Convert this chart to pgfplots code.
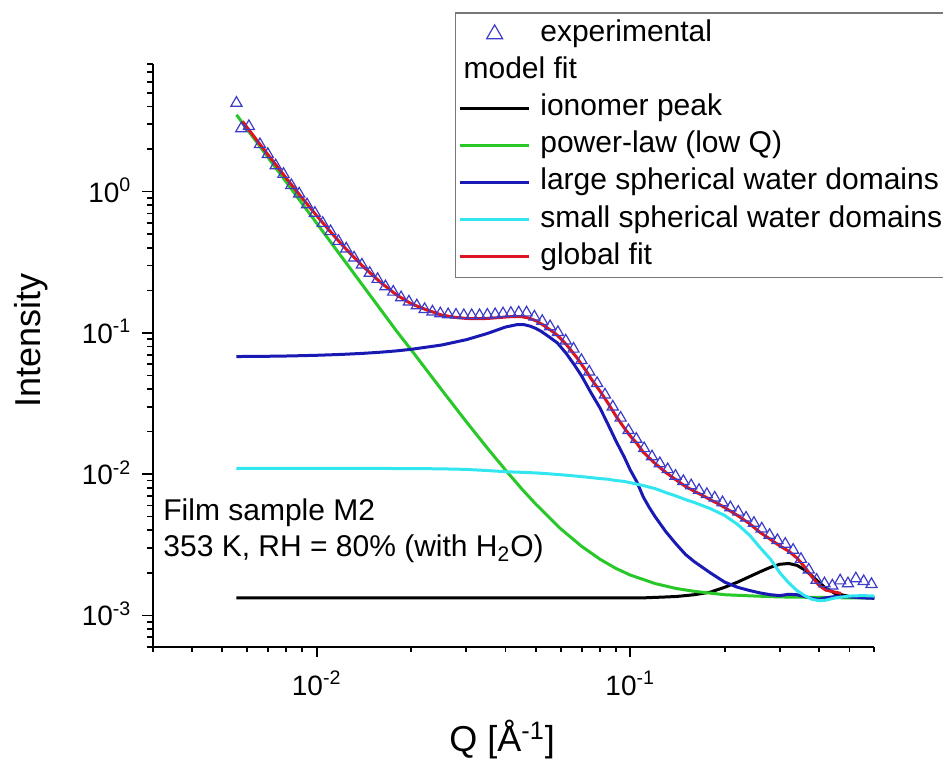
\documentclass[border=0pt]{standalone}
\usepackage{fontspec}
\setmainfont{Liberation Sans}
\usepackage{pgfplots}
\pgfplotsset{compat=1.18}

\definecolor{expblue}{RGB}{60,60,200}
\definecolor{fitgreen}{RGB}{40,200,40}
\definecolor{fitblue}{RGB}{25,25,180}
\definecolor{fitcyan}{RGB}{50,230,240}
\definecolor{fitred}{RGB}{220,20,30}
\definecolor{legframe}{RGB}{120,120,120}

\pgfplotsset{
    linelegend/.style={legend image code/.code={\draw[##1] (0pt,0pt) -- (34.5pt,0pt);}},
    marklegend/.style={legend image code/.code={\path[draw=none] (0pt,0pt) -- (34.5pt,0pt);
        \draw[##1, mark size=4.6pt] plot coordinates {(17.25pt,0pt)};}},
    nolegend/.style={legend image code/.code={}},
}

\begin{document}
\begin{tikzpicture}
\begin{axis}[
    scale only axis,
    width=360.8pt, height=291.3pt,
    xmode=log, ymode=log,
    xmin=3e-3, xmax=0.6,
    ymin=6e-4, ymax=8,
    axis x line*=bottom, axis y line*=left,
    axis line style={line width=1pt},
    tick align=outside,
    major tick length=5.2pt, minor tick length=2.7pt,
    tick style={black, line width=0.85pt},
    xtick={0.01,0.1},
    xticklabels={10\textsuperscript{-2},10\textsuperscript{-1}},
    minor xtick={0.003,0.004,0.005,0.006,0.007,0.008,0.009,0.02,0.03,0.04,0.05,0.06,0.07,0.08,0.09,0.2,0.3,0.4,0.5,0.6},
    ytick={0.001,0.01,0.1,1},
    yticklabels={10\textsuperscript{-3},10\textsuperscript{-2},10\textsuperscript{-1},10\textsuperscript{0}},
    minor ytick={0.0006,0.0007,0.0008,0.0009,0.002,0.003,0.004,0.005,0.006,0.007,0.008,0.009,0.02,0.03,0.04,0.05,0.06,0.07,0.08,0.09,0.2,0.3,0.4,0.5,0.6,0.7,0.8,0.9,2,3,4,5,6,7,8},
    tick label style={font=\fontsize{14}{16}\selectfont},
    xticklabel style={anchor=base, yshift=-19pt, inner sep=0pt},
    yticklabel style={anchor=base east, xshift=-5.3pt, yshift=-5.2pt, inner sep=0pt},
    xlabel={Q [Å\textsuperscript{-1}]},
    ylabel={Intensity},
    label style={font=\fontsize{18}{21}\selectfont, inner sep=0pt},
    xlabel style={at={(axis description cs:0.4843,0)}, anchor=base, yshift=-52.65pt},
    ylabel style={at={(axis description cs:-0.1688,0.5263)}, anchor=center},
    legend style={
        at={(0.419,1.0886)}, anchor=north west,
        draw=legframe, line width=0.6pt,
        font=\fontsize{15}{18}\selectfont,
        inner xsep=1.5pt, inner ysep=3.25pt, row sep=4.05pt,
        nodes={inner sep=0pt, text height=11pt, text depth=3.5pt},
        /tikz/every odd column/.append style={column sep=4.85pt},
    },
    legend cell align=left,
]

% experimental data
\addplot[only marks, mark=triangle, mark size=3.2pt, color=expblue,
    mark options={line width=0.6pt}, marklegend]
coordinates {
    (0.00555,4.24) (0.00575,2.80) (0.00608,2.90) (0.006596,2.16)
    (0.006987,1.84) (0.007401,1.53) (0.007839,1.33) (0.008304,1.11)
    (0.008796,0.965) (0.009317,0.81) (0.00987,0.705) (0.010454,0.598)
    (0.011074,0.523) (0.01173,0.446) (0.012425,0.394) (0.013161,0.340)
    (0.013941,0.303) (0.014767,0.265) (0.015642,0.240) (0.016569,0.213)
    (0.017551,0.195) (0.018591,0.178) (0.019692,0.166) (0.020859,0.156)
    (0.022095,0.147) (0.023404,0.141) (0.024791,0.137) (0.02626,0.135)
    (0.027816,0.134) (0.029464,0.133) (0.03121,0.133) (0.03306,0.133)
    (0.03502,0.134) (0.03709,0.135) (0.03929,0.137) (0.04162,0.138)
    (0.04409,0.139) (0.0467,0.139) (0.04946,0.130) (0.0524,0.121)
    (0.0555,0.111) (0.05879,0.101) (0.06227,0.088) (0.06596,0.077)
    (0.06987,0.064) (0.07401,0.053) (0.07839,0.044) (0.08304,0.0365)
    (0.08796,0.030) (0.09317,0.025) (0.0987,0.0204) (0.10454,0.0177)
    (0.11074,0.0152) (0.1173,0.0133) (0.12425,0.0119) (0.13161,0.0108)
    (0.13941,0.0097) (0.14767,0.0089) (0.15642,0.0083) (0.16569,0.0077)
    (0.17551,0.0072) (0.18591,0.0068) (0.19692,0.0063) (0.20859,0.0058)
    (0.22095,0.0054) (0.23404,0.0049) (0.24791,0.0045) (0.2626,0.0041)
    (0.27816,0.0037) (0.29464,0.0034) (0.3121,0.0032) (0.3306,0.0029)
    (0.3502,0.0025) (0.3709,0.0021) (0.3929,0.00178) (0.4162,0.00168)
    (0.4409,0.00162) (0.467,0.00176) (0.4946,0.00168) (0.524,0.00182)
    (0.555,0.00174) (0.5879,0.00166)
};
\addlegendentry{experimental}

\addlegendimage{nolegend}
\addlegendentry{\hspace*{-38.35pt}model fit}

% ionomer peak
\addplot[black, line width=1.5pt, linelegend] coordinates {
    (0.00555,0.00133) (0.01,0.00133) (0.05,0.00133) (0.1,0.00133)
    (0.11,0.00133) (0.12,0.00134) (0.13,0.00135) (0.14,0.00136)
    (0.15,0.00138) (0.16,0.0014) (0.18,0.00146) (0.2,0.00158)
    (0.22,0.00172) (0.24,0.00188) (0.26,0.00204) (0.28,0.00219)
    (0.3,0.0023) (0.32,0.00233) (0.34,0.00226) (0.36,0.0021)
    (0.38,0.0019) (0.4,0.00171) (0.42,0.00156) (0.45,0.00143)
    (0.5,0.00136) (0.55,0.00134) (0.6,0.00133)
};
\addlegendentry{ionomer peak}

% power law
\addplot[fitgreen, line width=1.5pt, linelegend] coordinates {
    (0.00555,3.50) (0.006,2.770) (0.007,1.745) (0.008,1.169) (0.009,0.8205)
    (0.01,0.5984) (0.012,0.3462) (0.014,0.2182) (0.016,0.1462) (0.018,0.1026)
    (0.02,0.0761) (0.025,0.0397) (0.03,0.0235) (0.035,0.0153) (0.04,0.0107)
    (0.045,0.0079) (0.05,0.00612) (0.06,0.0041) (0.07,0.00308)
    (0.08,0.0025) (0.09,0.00215) (0.1,0.00193) (0.12,0.00168)
    (0.14,0.00155) (0.16,0.00148) (0.2,0.0014) (0.25,0.00137)
    (0.3,0.00135) (0.4,0.00134) (0.5,0.00133) (0.6,0.00133)
};
\addlegendentry{power-law (low Q)}

% large spheres
\addplot[fitblue, line width=1.5pt, linelegend] coordinates {
    (0.00555,0.0680) (0.006,0.0681) (0.007,0.0683) (0.008,0.0686)
    (0.009,0.0690) (0.01,0.0694) (0.012,0.0704) (0.014,0.0716)
    (0.016,0.0730) (0.018,0.0746) (0.02,0.0765) (0.025,0.0820)
    (0.03,0.0895) (0.035,0.0990) (0.04,0.1100) (0.0437,0.1146)
    (0.046,0.1142) (0.048,0.1115) (0.05,0.1075) (0.052,0.1025)
    (0.055,0.0940) (0.0586,0.0848) (0.0625,0.0715) (0.0663,0.0595)
    (0.07,0.0495) (0.0749,0.0378) (0.08,0.0295) (0.0847,0.0228)
    (0.09,0.0172) (0.0957,0.0132) (0.1,0.0107) (0.105,0.0088)
    (0.11,0.0069) (0.115,0.0058) (0.12,0.0050)
    (0.13,0.0039) (0.14,0.0032) (0.15,0.0027) (0.16,0.0024)
    (0.18,0.0020) (0.2,0.00172) (0.22,0.00158) (0.24,0.0015)
    (0.26,0.00144) (0.28,0.0014) (0.3,0.00138) (0.32,0.00141)
    (0.34,0.0014) (0.36,0.00136) (0.38,0.00132) (0.4,0.0013)
    (0.42,0.00133) (0.45,0.00136) (0.5,0.00135) (0.55,0.00133)
    (0.6,0.00132)
};
\addlegendentry{large spherical water domains}

% small spheres
\addplot[fitcyan, line width=1.5pt, linelegend] coordinates {
    (0.00555,0.0110) (0.01,0.0110) (0.02,0.01095) (0.025,0.0109)
    (0.03,0.0108) (0.035,0.0106) (0.04,0.0104) (0.045,0.0103)
    (0.05,0.0102) (0.055,0.01005) (0.06,0.0099) (0.065,0.00975)
    (0.07,0.0096) (0.075,0.00945) (0.08,0.0093) (0.085,0.0092)
    (0.09,0.0090) (0.095,0.0089) (0.1,0.0087) (0.11,0.0083)
    (0.12,0.0079) (0.13,0.0074) (0.14,0.0070) (0.15,0.0066)
    (0.16,0.0063) (0.18,0.0057) (0.2,0.0051) (0.22,0.0044)
    (0.24,0.0037) (0.26,0.0030) (0.28,0.0025) (0.3,0.0020)
    (0.32,0.0017) (0.34,0.0015) (0.36,0.00138) (0.38,0.0013)
    (0.4,0.00127) (0.42,0.00128) (0.45,0.00133) (0.5,0.00137)
    (0.55,0.00138) (0.6,0.00137)
};
\addlegendentry{small spherical water domains\hspace*{6pt}}

% global fit
\addplot[fitred, line width=1.5pt, linelegend] coordinates {
    (0.0058,3.144) (0.006,2.846) (0.007,1.822) (0.008,1.246) (0.009,0.898)
    (0.01,0.676) (0.011,0.528) (0.012,0.425) (0.013,0.352) (0.014,0.298)
    (0.016,0.2275) (0.018,0.1855) (0.02,0.161) (0.0225,0.145) (0.025,0.134)
    (0.0275,0.129) (0.03,0.1265) (0.0325,0.126) (0.035,0.1265)
    (0.0375,0.128) (0.04,0.1295) (0.0425,0.1306) (0.045,0.1303)
    (0.0475,0.1273) (0.05,0.1218) (0.0525,0.1144) (0.055,0.1066)
    (0.0575,0.0996) (0.06,0.0911) (0.0625,0.0828) (0.065,0.0744)
    (0.0675,0.067) (0.07,0.0597) (0.0725,0.0534) (0.075,0.0474)
    (0.0775,0.0428) (0.08,0.0388) (0.085,0.0317) (0.09,0.0258)
    (0.095,0.0217) (0.1,0.0186) (0.105,0.0165) (0.11,0.0143)
    (0.12,0.0119) (0.13,0.01025) (0.14,0.0091) (0.15,0.00818)
    (0.16,0.00757) (0.17,0.00707) (0.18,0.00659) (0.19,0.0062)
    (0.2,0.0058) (0.22,0.00509) (0.24,0.00446) (0.26,0.00385)
    (0.28,0.00345) (0.3,0.0031) (0.32,0.00285) (0.34,0.00255)
    (0.36,0.0022) (0.38,0.00187) (0.4,0.00163) (0.42,0.00151)
    (0.45,0.00146) (0.47,0.00143)
};
\addlegendentry{global fit}

\node[anchor=base west, inner sep=0pt, font=\fontsize{15}{18}\selectfont]
    at (rel axis cs:0.0143,0.2174) {Film sample M2};
\node[anchor=base west, inner sep=0pt, font=\fontsize{15}{18}\selectfont]
    at (rel axis cs:0.0143,0.1545) {353 K, RH = 80\% (with H\textsubscript{2}O)};

\end{axis}
\pgfresetboundingbox
\path (-76.35pt,-58.15pt) rectangle (395.15pt,323.35pt);
\end{tikzpicture}
\end{document}
